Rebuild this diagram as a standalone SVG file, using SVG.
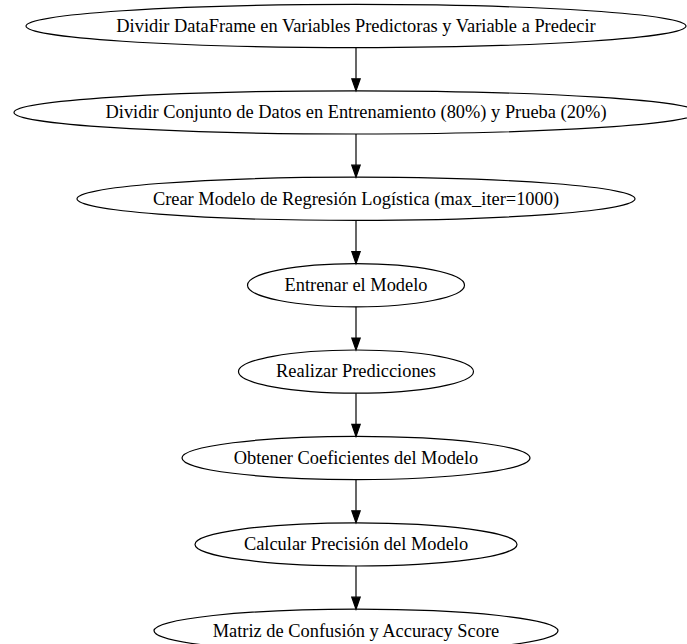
<svg xmlns="http://www.w3.org/2000/svg" width="687" height="644" viewBox="0 0 687 644">
<style>
.n ellipse{fill:none;stroke:#000;stroke-width:1.2}
.n text{font-family:"Liberation Serif","Times New Roman",serif;font-size:18.4px;fill:#000;text-anchor:middle}
#edges line{stroke:#000;stroke-width:1.2}
#edges polygon{fill:#000;stroke:#000;stroke-width:1.2}
</style>
<rect width="687" height="644" fill="#fff"/>
<g id="n1" class="n"><ellipse cx="356" cy="26" rx="330" ry="21.6"/><text x="356" y="31.8">Dividir DataFrame en Variables Predictoras y Variable a Predecir</text></g>
<g id="n2" class="n"><ellipse cx="356" cy="112.4" rx="342" ry="21.6"/><text x="356" y="118.2">Dividir Conjunto de Datos en Entrenamiento (80%) y Prueba (20%)</text></g>
<g id="n3" class="n"><ellipse cx="356" cy="198.8" rx="279" ry="21.6"/><text x="356" y="204.6">Crear Modelo de Regresión Logística (max_iter=1000)</text></g>
<g id="n4" class="n"><ellipse cx="356" cy="285.2" rx="108.5" ry="21.6"/><text x="356" y="291">Entrenar el Modelo</text></g>
<g id="n5" class="n"><ellipse cx="356" cy="371.6" rx="117.5" ry="21.6"/><text x="356" y="377.4">Realizar Predicciones</text></g>
<g id="n6" class="n"><ellipse cx="356" cy="458" rx="174" ry="21.6"/><text x="356" y="463.8">Obtener Coeficientes del Modelo</text></g>
<g id="n7" class="n"><ellipse cx="356" cy="544.4" rx="161" ry="21.6"/><text x="356" y="550.2">Calcular Precisión del Modelo</text></g>
<g id="n8" class="n"><ellipse cx="356" cy="630.8" rx="202" ry="21.6"/><text x="356" y="636.6">Matriz de Confusión y Accuracy Score</text></g>
<g id="edges">
<line x1="356" y1="47.6" x2="356" y2="78.8"/><polygon points="351.8,78.8 356,90.8 360.2,78.8"/>
<line x1="356" y1="134" x2="356" y2="165.2"/><polygon points="351.8,165.2 356,177.2 360.2,165.2"/>
<line x1="356" y1="220.4" x2="356" y2="251.6"/><polygon points="351.8,251.6 356,263.6 360.2,251.6"/>
<line x1="356" y1="306.8" x2="356" y2="338"/><polygon points="351.8,338 356,350 360.2,338"/>
<line x1="356" y1="393.2" x2="356" y2="424.4"/><polygon points="351.8,424.4 356,436.4 360.2,424.4"/>
<line x1="356" y1="479.6" x2="356" y2="510.8"/><polygon points="351.8,510.8 356,522.8 360.2,510.8"/>
<line x1="356" y1="566" x2="356" y2="597.2"/><polygon points="351.8,597.2 356,609.2 360.2,597.2"/>
</g>
</svg>
